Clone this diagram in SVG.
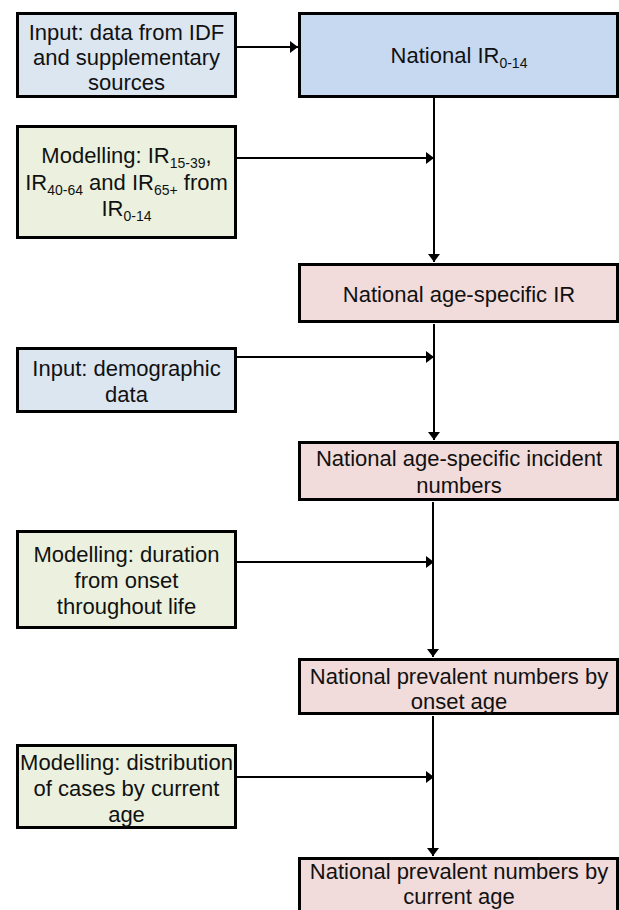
<svg xmlns="http://www.w3.org/2000/svg" width="619" height="910" viewBox="0 0 619 910">
<style>
.box{stroke:#000;stroke-width:3}
.in{fill:#dce6f1}
.nat{fill:#c6d9f1}
.mod{fill:#ebf1de}
.out{fill:#f2dcdb}
text{font-family:"Liberation Sans",Arial,sans-serif;font-size:22px;fill:#111;text-anchor:middle}
.sub{font-size:14px}
.conn{stroke:#000;stroke-width:2;fill:none}
</style>
<defs>
<marker id="ah" markerWidth="8" markerHeight="12" refX="8" refY="6" orient="auto" markerUnits="userSpaceOnUse">
<path d="M0,0 L8,6 L0,12 Z" fill="#000"/>
</marker>
</defs>
<rect width="619" height="910" fill="#fff"/>
<g id="connectors">
<line class="conn" x1="237" y1="47" x2="298" y2="47" marker-end="url(#ah)"/>
<line class="conn" x1="237" y1="158" x2="434" y2="158" marker-end="url(#ah)"/>
<line class="conn" x1="237" y1="357" x2="434" y2="357" marker-end="url(#ah)"/>
<line class="conn" x1="237" y1="562" x2="434" y2="562" marker-end="url(#ah)"/>
<line class="conn" x1="237" y1="777" x2="434" y2="777" marker-end="url(#ah)"/>
<line class="conn" x1="434" y1="98" x2="434" y2="262" marker-end="url(#ah)"/>
<line class="conn" x1="434" y1="324" x2="434" y2="440" marker-end="url(#ah)"/>
<line class="conn" x1="433" y1="502" x2="433" y2="657" marker-end="url(#ah)"/>
<line class="conn" x1="433" y1="716" x2="433" y2="856" marker-end="url(#ah)"/>
</g>
<g id="input-idf">
<rect class="box in" x="17.5" y="13.5" width="218" height="83"/>
<text x="126.5" y="40">Input: data from IDF</text>
<text x="126.5" y="65">and supplementary</text>
<text x="126.5" y="90">sources</text>
</g>
<g id="national-ir">
<rect class="box nat" x="299.5" y="13.5" width="318" height="83"/>
<text x="459" y="63">National IR<tspan class="sub" dy="5">0-14</tspan></text>
</g>
<g id="modelling-ir">
<rect class="box mod" x="17.5" y="126.5" width="218" height="111"/>
<text x="126.5" y="163">Modelling: IR<tspan class="sub" dy="5">15-39</tspan><tspan dy="-5">,</tspan></text>
<text x="126.5" y="190">IR<tspan class="sub" dy="5">40-64</tspan><tspan dy="-5"> and IR</tspan><tspan class="sub" dy="5">65+</tspan><tspan dy="-5"> from</tspan></text>
<text x="126.5" y="216">IR<tspan class="sub" dy="5">0-14</tspan></text>
</g>
<g id="national-age-ir">
<rect class="box out" x="299.5" y="264.5" width="318" height="57"/>
<text x="459" y="302">National age-specific IR</text>
</g>
<g id="input-demographic">
<rect class="box in" x="17.5" y="348.5" width="218" height="63"/>
<text x="126.5" y="376">Input: demographic</text>
<text x="126.5" y="402">data</text>
</g>
<g id="national-incident">
<rect class="box out" x="299.5" y="442.5" width="318" height="57"/>
<text x="459" y="466">National age-specific incident</text>
<text x="459" y="493">numbers</text>
</g>
<g id="modelling-duration">
<rect class="box mod" x="17.5" y="531.5" width="218" height="96"/>
<text x="126.5" y="562">Modelling: duration</text>
<text x="126.5" y="588">from onset</text>
<text x="126.5" y="614">throughout life</text>
</g>
<g id="national-prevalent-onset">
<rect class="box out" x="299.5" y="659.5" width="318" height="54"/>
<text x="459" y="684">National prevalent numbers by</text>
<text x="459" y="709">onset age</text>
</g>
<g id="modelling-distribution">
<rect class="box mod" x="17.5" y="745.5" width="218" height="82"/>
<text x="126.5" y="770">Modelling: distribution</text>
<text x="126.5" y="796">of cases by current</text>
<text x="126.5" y="822">age</text>
</g>
<g id="national-prevalent-current">
<rect class="box out" x="299.5" y="858.5" width="318" height="70"/>
<text x="459" y="879">National prevalent numbers by</text>
<text x="459" y="904">current age</text>
</g>
</svg>
